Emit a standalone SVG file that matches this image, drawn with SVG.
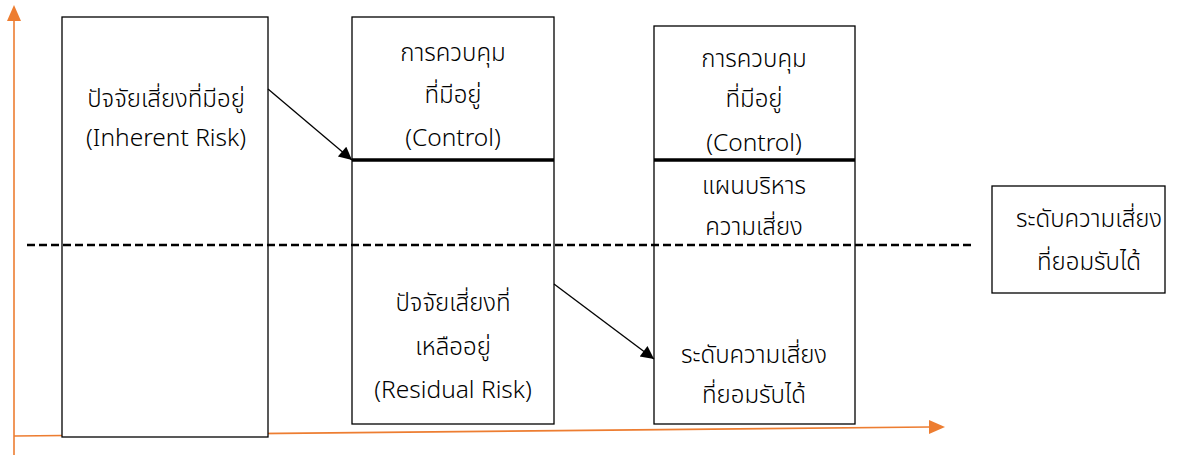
<svg xmlns="http://www.w3.org/2000/svg" width="1194" height="457" viewBox="0 0 1194 457">
<style>
.box{fill:#fff;stroke:#000;stroke-width:1.3}
.t{font-family:"Noto Sans Thai","Noto Sans","DejaVu Sans",sans-serif;font-size:24px;font-weight:300;fill:#000;text-anchor:middle}
.l{font-size:24.5px}
.thick{stroke:#000;stroke-width:3.5}
.axis{stroke:#ED7D31;stroke-width:1.6;fill:none}
.con{stroke:#000;stroke-width:1.3;fill:none}
</style>
<defs>
<marker id="ah" viewBox="0 0 10 10" refX="10" refY="5" markerWidth="16" markerHeight="13" markerUnits="userSpaceOnUse" orient="auto">
<path d="M0,0 L10,5 L0,10 z" fill="#000"/>
</marker>
</defs>
<g id="axes">
<line class="axis" x1="14" y1="455" x2="14" y2="20"/>
<polygon points="14,5 7,21 21,21" fill="#ED7D31"/>
<line class="axis" x1="14" y1="436" x2="930" y2="427"/>
<polygon points="945,427 929,420 929,434" fill="#ED7D31"/>
</g>
<g id="box1">
<rect class="box" x="62" y="17" width="206" height="420"/>
<text class="t" x="166" y="107">ปัจจัยเสี่ยงที่มีอยู่</text>
<text class="t l" x="166" y="146">(Inherent Risk)</text>
</g>
<g id="box2">
<rect class="box" x="352" y="17" width="202" height="407"/>
<line class="thick" x1="352" y1="160" x2="554" y2="160"/>
<text class="t" x="453" y="61">การควบคุม</text>
<text class="t" x="453" y="103">ที่มีอยู่</text>
<text class="t l" x="453" y="146">(Control)</text>
<text class="t" x="453" y="311">ปัจจัยเสี่ยงที่</text>
<text class="t" x="453" y="355">เหลืออยู่</text>
<text class="t l" x="453" y="398">(Residual Risk)</text>
</g>
<g id="box3">
<rect class="box" x="654" y="26" width="201" height="398"/>
<line class="thick" x1="654" y1="160" x2="855" y2="160"/>
<text class="t" x="754" y="67">การควบคุม</text>
<text class="t" x="754" y="107">ที่มีอยู่</text>
<text class="t l" x="754" y="151">(Control)</text>
<text class="t" x="754" y="194">แผนบริหาร</text>
<text class="t" x="754" y="235">ความเสี่ยง</text>
<text class="t" x="754" y="363">ระดับความเสี่ยง</text>
<text class="t" x="754" y="403">ที่ยอมรับได้</text>
</g>
<g id="box4">
<rect class="box" x="992" y="186" width="173" height="107"/>
<text class="t" x="1089" y="227">ระดับความเสี่ยง</text>
<text class="t" x="1089" y="270">ที่ยอมรับได้</text>
</g>
<g id="connectors">
<line x1="27" y1="245" x2="975" y2="245" stroke="#000" stroke-width="2.4" stroke-dasharray="8,4"/>
<line class="con" x1="268" y1="89" x2="352" y2="160" marker-end="url(#ah)"/>
<line class="con" x1="554" y1="284" x2="654" y2="359" marker-end="url(#ah)"/>
</g>
</svg>
